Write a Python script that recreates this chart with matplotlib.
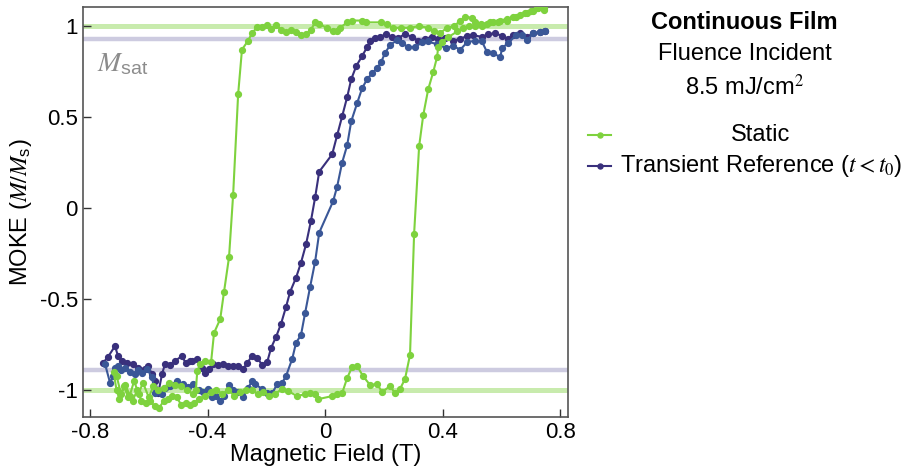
import matplotlib
matplotlib.use("Agg")
import matplotlib.pyplot as plt
from matplotlib.lines import Line2D

plt.rcParams['font.family'] = ['Liberation Sans', 'DejaVu Sans']
plt.rcParams['mathtext.fontset'] = 'stix'
plt.rcParams['axes.unicode_minus'] = False

# Static loop (field swept down, then back up)
static_x = [0.745, 0.725, 0.708, 0.688, 0.664, 0.64, 0.62, 0.596, 0.572, 0.551, 0.534, 0.51, 0.5,
            0.477, 0.46, 0.44, 0.415, 0.39, 0.37, 0.35, 0.32, 0.29, 0.26, 0.23, 0.21, 0.19, 0.14,
            0.126, 0.092, 0.075, 0.051, 0.041, 0.027, 0.007, -0.02, -0.034, -0.048, -0.065, -0.082,
            -0.099, -0.116, -0.133, -0.15, -0.167, -0.184, -0.197, -0.214, -0.231, -0.249, -0.262,
            -0.283, -0.296, -0.313, -0.327, -0.344, -0.357, -0.378, -0.388, -0.408, -0.425, -0.435,
            -0.44, -0.45, -0.47, -0.49, -0.51, -0.53, -0.55, -0.57, -0.585, -0.6, -0.62, -0.635,
            -0.65, -0.665, -0.68, -0.695, -0.71, -0.72,
            -0.71, -0.7, -0.685, -0.67, -0.655, -0.64, -0.625, -0.61, -0.595, -0.58, -0.565, -0.55,
            -0.535, -0.52, -0.505, -0.49, -0.475, -0.46, -0.445, -0.43, -0.41, -0.39, -0.37, -0.35,
            -0.33, -0.31, -0.29, -0.27, -0.25, -0.23, -0.21, -0.19, -0.17, -0.146, -0.126, -0.095,
            -0.068, -0.051, -0.034, -0.024, 0.024, 0.041, 0.058, 0.075, 0.092, 0.109, 0.129, 0.153,
            0.177, 0.194, 0.221, 0.238, 0.255, 0.272, 0.289, 0.303, 0.32, 0.334, 0.351, 0.368,
            0.381, 0.385, 0.398, 0.42, 0.45, 0.47, 0.49, 0.51, 0.53, 0.56, 0.59, 0.62, 0.65, 0.68,
            0.7, 0.72, 0.745]
static_y = [1.09, 1.10, 1.08, 1.07, 1.06, 1.05, 1.04, 1.03, 1.02, 1.01, 1.0, 1.02, 1.045,
            1.05, 1.03, 1.0, 0.99, 0.96, 0.97, 0.99, 1.0, 0.99, 0.99, 0.99, 1.01, 1.02, 1.02,
            1.03, 1.03, 1.02, 0.99, 0.97, 0.97, 0.99, 1.01, 1.02, 0.98, 0.955, 0.95,
            0.965, 0.98, 0.965, 0.98, 1.005, 0.985, 1.005, 0.995, 0.995, 0.96, 0.92,
            0.87, 0.625, 0.074, -0.27, -0.46, -0.61, -0.686, -0.845, -0.84, -0.857, -0.895,
            -1.0, -1.02, -1.0, -0.98, -0.97, -0.96, -0.99, -1.0, -0.98, -1.04, -0.96, -1.02,
            -0.95, -1.03, -0.97, -1.02, -0.92, -0.9,
            -1.0, -1.05, -0.98, -1.04, -1.06, -1.0, -1.06, -1.07, -1.06, -1.09, -1.10, -1.06,
            -1.05, -1.03, -1.04, -1.08, -1.07, -1.08, -1.07, -1.05, -1.03, -1.01, -1.0, -1.02,
            -1.0, -1.03, -1.01, -1.0, -1.0, -1.02, -1.01, -1.03, -1.02, -0.994, -1.006, -1.033,
            -1.022, -1.017, -1.022, -1.05, -1.033, -1.022, -1.017, -0.934, -0.873, -0.868, -0.923, -0.972,
            -0.967, -1.011, -0.978, -1.017, -0.994, -0.939, -0.807, -0.14, 0.339, 0.51, 0.653, 0.747,
            0.829, 0.884, 0.912, 0.94, 0.97, 0.99, 1.0, 1.0, 1.01, 1.02, 1.02, 1.03, 1.05, 1.07,
            1.08, 1.10, 1.10]

# Transient reference, first branch (switches at negative field)
tr1_x = [-0.756, -0.739, -0.715, -0.705, -0.691, -0.674, -0.654, -0.637, -0.613, -0.603, -0.589,
         -0.579, -0.568, -0.555, -0.545, -0.528, -0.511, -0.487, -0.475, -0.46, -0.453, -0.436,
         -0.419, -0.408, -0.395, -0.381, -0.364, -0.347, -0.33, -0.313, -0.296, -0.279, -0.265,
         -0.249, -0.231, -0.214, -0.197, -0.184, -0.167, -0.15, -0.133, -0.119, -0.099, -0.082,
         -0.065, -0.048, -0.034, -0.02, 0.024, 0.041, 0.058, 0.075, 0.089, 0.106, 0.126, 0.143,
         0.153, 0.17, 0.187, 0.208, 0.228, 0.249, 0.272, 0.296, 0.317, 0.34, 0.364, 0.385, 0.409,
         0.436, 0.46, 0.483, 0.504, 0.534, 0.555, 0.579, 0.603, 0.623, 0.64, 0.664, 0.688, 0.708,
         0.732, 0.749]
tr1_y = [-0.851, -0.818, -0.758, -0.813, -0.84, -0.851, -0.857, -0.879, -0.884, -0.868, -0.912,
         -0.95, -1.017, -0.912, -0.857, -0.863, -0.84, -0.813, -0.85, -0.84, -0.84, -0.829,
         -0.879, -0.906, -0.884, -0.857, -0.86, -0.857, -0.866, -0.868, -0.868, -0.884, -0.851,
         -0.813, -0.824, -0.862, -0.846, -0.769, -0.708, -0.636, -0.543, -0.46, -0.383, -0.30,
         -0.20, -0.069, 0.058, 0.2, 0.295, 0.40, 0.504, 0.609, 0.708, 0.78, 0.835, 0.884,
         0.917, 0.934, 0.94, 0.956, 0.94, 0.934, 0.956, 0.94, 0.92, 0.93, 0.94, 0.928, 0.935,
         0.92, 0.93, 0.945, 0.95, 0.94, 0.955, 0.96, 0.945, 0.93, 0.95, 0.96, 0.94, 0.96,
         0.965, 0.97]

# Transient reference, second branch (switches near zero field)
tr2_x = [-0.749, -0.732, -0.722, -0.715, -0.705, -0.695, -0.681, -0.664, -0.647, -0.637, -0.623,
         -0.606, -0.589, -0.579, -0.568, -0.555, -0.545, -0.528, -0.504, -0.483, -0.466, -0.449,
         -0.43, -0.415, -0.40, -0.385, -0.37, -0.357, -0.344, -0.327, -0.313, -0.296, -0.279,
         -0.262, -0.249, -0.238, -0.214, -0.197, -0.18, -0.163, -0.146, -0.133, -0.112, -0.099,
         -0.082, -0.068, -0.051, -0.034, -0.02, 0.027, 0.041, 0.058, 0.075, 0.089, 0.109, 0.126,
         0.143, 0.16, 0.177, 0.19, 0.204, 0.221, 0.245, 0.262, 0.283, 0.306, 0.33, 0.35, 0.38,
         0.41, 0.436, 0.46, 0.483, 0.51, 0.534, 0.551, 0.572, 0.596, 0.603, 0.623, 0.65, 0.67,
         0.688, 0.708, 0.732, 0.749]
tr2_y = [-0.857, -0.96, -0.923, -0.879, -0.868, -0.89, -0.879, -0.90, -0.912, -0.89, -0.906,
         -0.884, -0.93, -1.017, -1.006, -1.02, -0.99, -0.975, -0.95, -0.967, -0.985, -0.967,
         -1.0, -1.01, -0.995, -1.04, -1.03, -1.06, -1.033, -0.973, -1.0, -1.01, -1.04,
         -0.99, -0.95, -0.967, -0.995, -1.017, -1.017, -0.967, -0.96, -0.923, -0.829, -0.741,
         -0.697, -0.576, -0.433, -0.295, -0.135, 0.036, 0.118, 0.25, 0.344, 0.477, 0.576, 0.658,
         0.708, 0.74, 0.769, 0.80, 0.851, 0.895, 0.923, 0.906, 0.884, 0.884, 0.91, 0.915, 0.9,
         0.88, 0.89, 0.87, 0.91, 0.92, 0.915, 0.857, 0.85, 0.83, 0.88, 0.906, 0.95, 0.95,
         0.923, 0.96, 0.967, 0.972]

# saturation levels
sat_static = [1.0, -1.0]
sat_transient = [0.93, -0.89]

green = '#7ed23e'
indigo = '#39307c'
blue = '#3a5797'

fig = plt.figure(figsize=(9.07, 4.72), dpi=100)
ax = fig.add_axes([0.0912, 0.1165, 0.5348, 0.8685])

for yv in sat_static:
    ax.axhline(yv, color='#c8ebad', lw=3.6, zorder=1)
for yv in sat_transient:
    ax.axhline(yv, color='#cdcbe0', lw=3.2, zorder=1)

ax.plot(tr1_x, tr1_y, '-o', color=indigo, lw=1.5, ms=4.2, zorder=3)
ax.plot(tr2_x, tr2_y, '-o', color=blue, lw=1.5, ms=4.2, zorder=3)
ax.plot(static_x, static_y, '-o', color=green, lw=1.5, ms=4.2, zorder=4)

ax.text(-0.778, 0.79, r'$M_\mathregular{sat}$', fontsize=20, color='#8c8c8c', ha='left', va='center')

ax.set_xlim(-0.825, 0.826)
ax.set_ylim(-1.148, 1.104)
ax.set_xticks([-0.8, -0.4, 0, 0.4, 0.8])
ax.set_xticklabels(['-0.8', '-0.4', '0', '0.4', '0.8'])
ax.set_yticks([-1, -0.5, 0, 0.5, 1])
ax.set_yticklabels(['-1', '-0.5', '0', '0.5', '1'])
ax.tick_params(direction='in', length=6, width=1, labelsize=16, color='#333333')
for s in ax.spines.values():
    s.set_color('#555555')
    s.set_linewidth(1.2)

ax.set_xlabel('Magnetic Field (T)', fontsize=17, labelpad=1)
ax.set_ylabel(r'MOKE ($M/M_\mathregular{s}$)', fontsize=17, labelpad=4)

# title block and legend on the right
fig.text(0.821, 0.953, 'Continuous Film', fontsize=17, fontweight='bold', ha='center', va='center')
fig.text(0.821, 0.886, 'Fluence Incident', fontsize=17, ha='center', va='center')
fig.text(0.821, 0.814, r'8.5 mJ/cm$^2$', fontsize=17, ha='center', va='center')

for yy, col, lab in [(0.714, green, 'Static'),
                     (0.648, indigo, r'Transient Reference ($t < t_0$)')]:
    fig.add_artist(Line2D([0.648, 0.674], [yy, yy], color=col, lw=1.5,
                          transform=fig.transFigure))
    fig.add_artist(Line2D([0.661], [yy], color=col, marker='o', ms=3.6,
                          transform=fig.transFigure))
    fig.text(0.839, yy, lab, fontsize=17, ha='center', va='center')

fig.savefig('out.png', dpi=100)
